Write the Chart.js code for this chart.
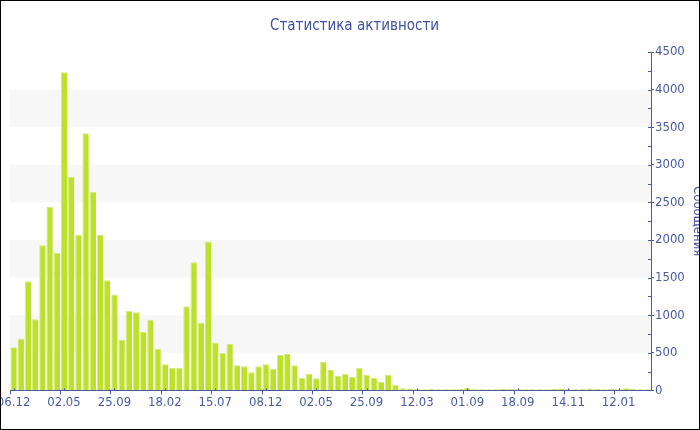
<!DOCTYPE html>
<html><head><meta charset="utf-8">
<script src="https://cdn.jsdelivr.net/npm/chart.js@4.4.1/dist/chart.umd.min.js"></script>
<style>
html,body{margin:0;padding:0;background:#fff;}
#wrap{width:698px;height:428px;border:1px solid #000;position:relative;overflow:hidden;background:#fff;}
canvas{display:block;}
</style></head><body>
<div id="wrap"><canvas id="c" width="698" height="428"></canvas></div>
<script>
// Tick labels shown every 7th bar
const tickLabels = ['06.12','02.05','25.09','18.02','15.07','08.12','02.05','25.09','12.03','01.09','18.09','14.11','12.01'];
const tickEvery = 7;
// Message counts per bar
const messages = [
  575, 690, 1450, 945, 1930, 2440, 1830, 4230, 2840, 2070,
  3420, 2640, 2065, 1465, 1275, 675, 1060, 1040, 775, 940,
  555, 347, 300, 300, 1120, 1705, 895, 1980, 638, 498,
  622, 333, 320, 240, 320, 347, 284, 471, 484, 333,
  169, 218, 160, 382, 271, 191, 218, 178, 302, 204,
  169, 111, 204, 76, 27, 22, 15, 15, 18, 15,
  15, 15, 18, 34, 15, 15, 15, 15, 22, 18,
  15, 15, 15, 15, 15, 22, 25, 15, 15, 18,
  25, 18, 15, 18, 15, 28, 18, 15, 15
];
const categories = messages.map((_, i) => i % tickEvery === 0 ? (tickLabels[i / tickEvery] || '') : '');
const yMax = 4500, yStep = 250, yLabelStep = 500, bandStep = 1000;

const axisColor = '#4a5aa5';
const textColor = '#4a5aa5';
const FONT = "'DejaVu Sans Condensed', 'DejaVu Sans', sans-serif";

const bandsPlugin = {
  id: 'bands',
  beforeDatasetsDraw(chart) {
    const {ctx, chartArea: a, scales: {y}} = chart;
    ctx.save();
    ctx.fillStyle = '#f7f7f7';
    for (let v = bandStep; v <= yMax; v += bandStep) {
      const top = y.getPixelForValue(v), bot = y.getPixelForValue(v - yLabelStep);
      ctx.fillRect(a.left, top, a.right - a.left, bot - top);
    }
    ctx.restore();
  },
  afterDatasetsDraw(chart) {
    const {ctx, chartArea: a, scales: {x, y}} = chart;
    ctx.save();
    ctx.strokeStyle = axisColor;
    ctx.lineWidth = 1;
    ctx.beginPath();
    for (let v = 0; v <= yMax; v += yStep) {
      const py = Math.round(y.getPixelForValue(v)) + 0.5;
      ctx.moveTo(a.right - 3, py); ctx.lineTo(a.right, py);
    }
    for (let i = 0; i < messages.length; i += tickEvery) {
      const px = Math.round(x.getPixelForValue(i)) + 0.5;
      ctx.moveTo(px, a.bottom - 2); ctx.lineTo(px, a.bottom);
    }
    ctx.stroke();
    ctx.restore();
  }
};

new Chart(document.getElementById('c'), {
  type: 'bar',
  data: {
    labels: categories,
    datasets: [{
      data: messages,
      backgroundColor: '#bde02c',
      borderColor: '#d3ec78',
      borderWidth: {top: 1, left: 1, right: 0, bottom: 0},
      borderSkipped: 'bottom',
      barPercentage: 0.88,
      categoryPercentage: 1
    }]
  },
  options: {
    responsive: false,
    animation: false,
    devicePixelRatio: 1,
    layout: {autoPadding: false, padding: {left: 9, right: 0, top: 0, bottom: 19}},
    plugins: {
      legend: {display: false},
      tooltip: {enabled: false},
      title: {
        display: true,
        text: 'Статистика активности',
        color: '#3f50a0',
        font: {family: FONT, size: 15, weight: 'normal'},
        padding: {top: 16, bottom: 17}
      }
    },
    scales: {
      x: {
        grid: {
          drawOnChartArea: false,
          tickLength: 4,
          color: (c) => (c.index % tickEvery === 0 ? axisColor : 'rgba(0,0,0,0)')
        },
        border: {color: axisColor, width: 1},
        ticks: {
          autoSkip: false, maxRotation: 0, minRotation: 0,
          color: textColor, padding: 0,
          font: {family: FONT, size: 13},
          callback: (v, i) => categories[i]
        },
        afterFit: (s) => { s.paddingLeft = 0; s.paddingRight = 0; }
      },
      y: {
        position: 'right',
        min: 0, max: yMax,
        grid: {
          drawOnChartArea: false,
          tickLength: 3,
          color: (c) => (c.tick && c.tick.value % yLabelStep === 0 ? axisColor : 'rgba(0,0,0,0)')
        },
        border: {color: axisColor, width: 1},
        ticks: {
          stepSize: yStep, autoSkip: false,
          color: textColor, padding: 1,
          font: {family: FONT, size: 13},
          callback: (v) => (v % yLabelStep === 0 ? String(v) : '')
        },
        title: {
          display: true, text: 'Сообщения', color: '#3f50a0',
          font: {family: FONT, size: 13},
          padding: {top: -6, bottom: 0}
        },
        afterFit: (s) => { s.width = 48; s.paddingTop = 0; s.paddingBottom = 0; }
      }
    }
  },
  plugins: [bandsPlugin]
});
</script>
</body></html>
